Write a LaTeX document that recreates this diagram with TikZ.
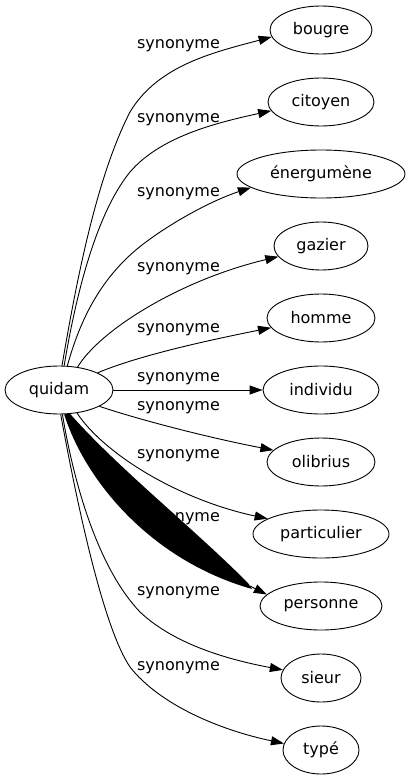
\documentclass[tikz,border=0pt]{standalone}
\usepackage{fontspec}
\setmainfont{DejaVu Sans}
\usetikzlibrary{arrows.meta,shapes.geometric}
\begin{document}
\begin{tikzpicture}[x=1pt,y=-1pt,
  word/.style={draw, ellipse, minimum height=48pt, inner sep=0pt, line width=0.9pt, font=\fontsize{16}{19}\selectfont},
  lab/.style={font=\fontsize{16}{19}\selectfont, inner sep=0pt},
  syn/.style={draw, line width=0.9pt, -{Triangle[length=13pt,width=9pt]}}]
\useasboundingbox (0,0) rectangle (409,779);
% nodes
\node[word, minimum width=108pt] (quidam) at (59,390) {quidam};
\node[word, minimum width=102pt] (bougre) at (321,30) {bougre};
\node[word, minimum width=106pt] (citoyen) at (321,102) {citoyen};
\node[word, minimum width=168pt] (energumene) at (321,174) {énergumène};
\node[word, minimum width=94pt] (gazier) at (321,246) {gazier};
\node[word, minimum width=108pt] (homme) at (321,318) {homme};
\node[word, minimum width=116pt] (individu) at (321,390) {individu};
\node[word, minimum width=108pt] (olibrius) at (321,462) {olibrius};
\node[word, minimum width=136pt] (particulier) at (321,534) {particulier};
\node[word, minimum width=122pt] (personne) at (321,606) {personne};
\node[word, minimum width=80pt] (sieur) at (321,678) {sieur};
\node[word, minimum width=76pt] (type) at (321,750) {typé};
% labels
\node[lab] (l1) at (178.5,46) {synonyme};
\node[lab] (l2) at (178.5,120) {synonyme};
\node[lab] (l3) at (178.5,193.5) {synonyme};
\node[lab] (l4) at (178.5,269) {synonyme};
\node[lab] (l5) at (178.5,330) {synonyme};
\node[lab] (l6) at (178.5,379) {synonyme};
\node[lab] (l7) at (178.5,407.5) {synonyme};
\node[lab] (l8) at (178.5,455.5) {synonyme};
\node[lab] (l9) at (178.5,519) {synonyme};
\node[lab] (l10) at (178.5,593) {synonyme};
\node[lab] (l11) at (178.5,667.5) {synonyme};
% edges
\draw[syn] (quidam.83) .. controls (75,290) and (95,180) .. (130,112) .. controls (158,65) and (215,52) .. (bougre.188);
\draw[syn] (quidam.78) .. controls (75,300) and (95,215) .. (130,172) .. controls (160,137) and (215,123) .. (citoyen.190);
\draw[syn] (quidam.71) .. controls (80,320) and (100,280) .. (137,249) .. controls (165,226) and (210,201) .. (energumene.191);
\draw[syn] (quidam.51) .. controls (100,330) and (180,280) .. (gazier.194);
\draw[syn] (quidam.24) .. controls (140,355) and (210,340) .. (homme.191);
\draw[syn] (quidam.0) -- (individu.180);
\draw[syn] (quidam.-22) .. controls (140,420) and (210,438) .. (olibrius.166);
\draw[syn] (quidam.-52) .. controls (105,455) and (180,500) .. (particulier.164);
% filled edge to personne
\coordinate (pa) at (252,589);
\coordinate (pb) at (248,583);
\coordinate (pm) at (250,586);
\fill (quidam.-78) .. controls (85,480) and (150,560) .. (pa) -- (pb) .. controls (190,525) and (120,470) .. (quidam.-65) -- cycle;
\draw[syn] (pm) -- (personne.168);
\draw[syn] (quidam.-82) .. controls (75,490) and (100,570) .. (140,612) .. controls (175,645) and (230,660) .. (sieur.168);
\draw[syn] (quidam.-86) .. controls (80,520) and (105,630) .. (130,667) .. controls (160,705) and (220,730) .. (type.170);
\end{tikzpicture}
\end{document}
